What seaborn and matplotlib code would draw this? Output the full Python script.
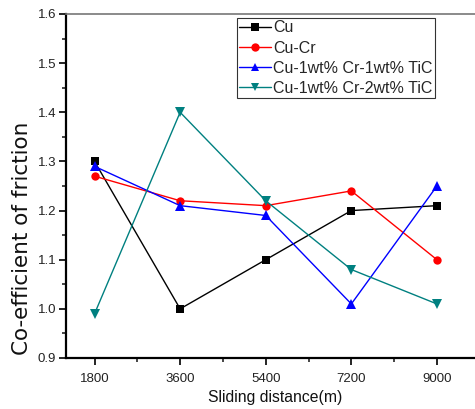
import matplotlib
matplotlib.use("Agg")
import matplotlib.pyplot as plt
import seaborn as sns
import pandas as pd
from matplotlib.ticker import MultipleLocator

distance = [1800, 3600, 5400, 7200, 9000]
cu = [1.30, 1.00, 1.10, 1.20, 1.21]
cu_cr = [1.27, 1.22, 1.21, 1.24, 1.10]
cu_cr_1tic = [1.29, 1.21, 1.19, 1.01, 1.25]
cu_cr_2tic = [0.99, 1.40, 1.22, 1.08, 1.01]
series_names = ["Cu", "Cu-Cr", "Cu-1wt% Cr-1wt% TiC", "Cu-1wt% Cr-2wt% TiC"]

rows = []
for name, vals in zip(series_names, [cu, cu_cr, cu_cr_1tic, cu_cr_2tic]):
    for d, v in zip(distance, vals):
        rows.append({"distance": d, "cof": v, "series": name})
df = pd.DataFrame(rows)

sns.set_style("white")
plt.rcParams['font.family'] = ['Liberation Sans', 'DejaVu Sans']

fig = plt.figure(figsize=(4.75, 4.09), dpi=100)
W, H = 475, 409
left, right, top, bottom = 66, 494, 14, 358
ax = fig.add_axes([left / W, 1 - bottom / H, (right - left) / W, (bottom - top) / H])

colors = ["#000000", "#ff0000", "#0000ff", "#008080"]
markers = ["s", "o", "^", "v"]
sns.lineplot(data=df, x="distance", y="cof", hue="series", style="series",
             palette=colors, markers=markers, dashes=False, ax=ax,
             linewidth=1.0, markersize=6, markeredgewidth=0)
msizes = {"s": 5.3, "o": 6.0, "^": 6.8, "v": 6.8}
for line in ax.get_lines():
    m = line.get_marker()
    if m in msizes:
        line.set_markersize(msizes[m])

ax.set_xlim(1200, 10200)
ax.set_ylim(0.9, 1.6)
ax.set_xticks(distance)
ax.set_xticklabels([str(d) for d in distance])
ax.xaxis.set_minor_locator(MultipleLocator(900))
ax.yaxis.set_major_locator(MultipleLocator(0.1))
ax.yaxis.set_minor_locator(MultipleLocator(0.05))
ax.tick_params(axis='both', which='major', direction='out', length=5, width=1.2,
               labelsize=9.5, colors='black', left=True, bottom=True, top=False, right=False)
ax.tick_params(axis='both', which='minor', direction='out', length=3, width=1.2,
               left=True, bottom=True, top=False, right=False)
ax.tick_params(axis='x', labelcolor='#222222', pad=6)
ax.tick_params(axis='y', labelcolor='#222222', pad=2)

for s in ['left', 'bottom']:
    ax.spines[s].set_color('black')
    ax.spines[s].set_linewidth(1.6)
ax.spines['top'].set_color('#777777')
ax.spines['top'].set_linewidth(1.2)
ax.spines['right'].set_visible(False)

ax.set_xlabel("Sliding distance(m)", fontsize=11.3, labelpad=6, color='#111111')
ax.xaxis.set_label_coords((275 - left) / (right - left), -(390 - bottom) / (bottom - top))
ax.xaxis.label.set_va('top')
ax.set_ylabel("Co-efficient of friction", fontsize=15.5, color='#111111',
              family=['DejaVu Sans'])
ax.yaxis.set_label_coords((22 - left) / (right - left), 1 - (238 - top) / (bottom - top))
ax.yaxis.label.set_va('center')

leg = ax.legend(loc='upper left', bbox_to_anchor=((237 - left) / (right - left), 1 - (18 - top) / (bottom - top)),
                fontsize=11.5, frameon=True, fancybox=False, borderpad=0.15,
                labelspacing=0.32, handlelength=2.0, handletextpad=0.1,
                borderaxespad=0, edgecolor='black')
leg.get_frame().set_linewidth(0.8)
for line in leg.get_lines():
    line.set_markersize(6)

fig.savefig("out.png", dpi=100)
